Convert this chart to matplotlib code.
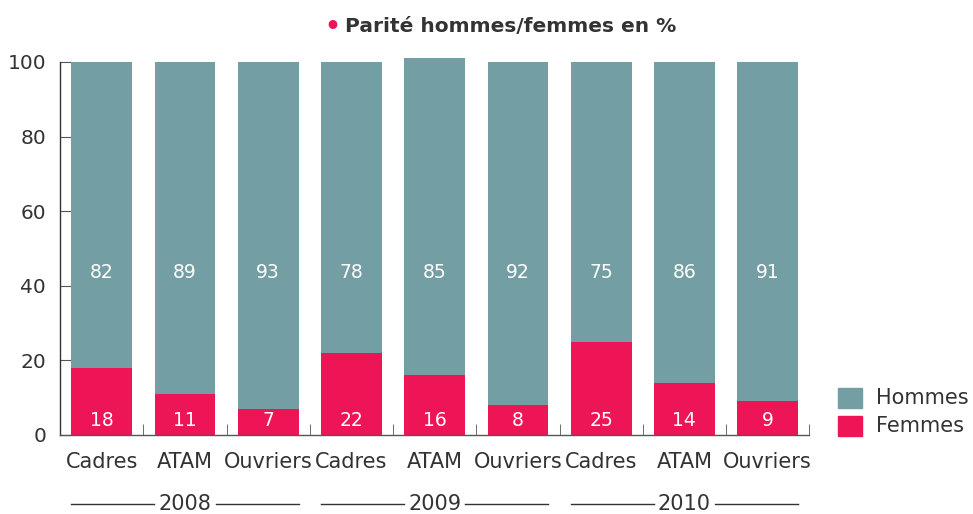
import numpy as np
import matplotlib
matplotlib.use("Agg")
import matplotlib.pyplot as plt
from matplotlib.patches import Rectangle

# ---------- data ----------
years = ["2008", "2009", "2010"]
categories = ["Cadres", "ATAM", "Ouvriers"] * 3
femmes = [18, 11, 7, 22, 16, 8, 25, 14, 9]
hommes = [82, 89, 93, 78, 85, 92, 75, 86, 91]

COLOR_H = "#739EA4"
COLOR_F = "#EE1556"
TXT = "#333333"

plt.rcParams.update({
    "font.family": ["DejaVu Sans"],
    "axes.linewidth": 1.0,
})

fig = plt.figure(figsize=(9.73, 5.14), dpi=100)
ax = fig.add_axes([0.0617, 0.1537, 0.77, 0.7257])

x = np.arange(len(categories))
w = 0.73
ax.bar(x, femmes, width=w, color=COLOR_F, clip_on=False, zorder=2)
ax.bar(x, hommes, width=w, bottom=femmes, color=COLOR_H, clip_on=False, zorder=2)

for xi, f, h in zip(x, femmes, hommes):
    ax.text(xi, 4, str(f), ha="center", va="center", color="white", fontsize=13.5)
    ax.text(xi, 43.5, str(h), ha="center", va="center", color="white", fontsize=13.5)

ax.set_xlim(-0.5, len(categories) - 0.5)
ax.set_ylim(0, 100)
ax.set_yticks([0, 20, 40, 60, 80, 100])
ax.tick_params(axis="y", direction="in", length=8, color="#555555",
               labelsize=14.5, labelcolor=TXT, pad=10)
ax.set_xticks(x)
ax.set_xticklabels(categories)
ax.tick_params(axis="x", length=0, labelsize=15, labelcolor=TXT, pad=12)
ax.set_xticks(x + 0.5, minor=True)
ax.tick_params(axis="x", which="minor", direction="in", length=8, color="#555555")

for s in ["top", "right"]:
    ax.spines[s].set_visible(False)
ax.spines["left"].set_color("#333333")
ax.spines["bottom"].set_color("#555555")

# year group labels with lines
trans = ax.get_xaxis_transform()
for i, yr in enumerate(years):
    left = 3 * i - w / 2
    right = 3 * i + 2 + w / 2
    mid = 3 * i + 1
    ax.text(mid, -0.185, yr, transform=trans, ha="center", va="center",
            fontsize=15, color=TXT)
    ax.plot([left, mid - 0.37], [-0.185, -0.185], transform=trans,
            color=TXT, lw=1.0, clip_on=False)
    ax.plot([mid + 0.37, right], [-0.185, -0.185], transform=trans,
            color=TXT, lw=1.0, clip_on=False)

# legend
for j, (lab, col) in enumerate([("Hommes", COLOR_H), ("Femmes", COLOR_F)]):
    yy = 1 - (398 + 28 * j) / 514
    fig.patches.append(Rectangle((838 / 973, yy - 10 / 514), 24 / 973, 20 / 514,
                                 transform=fig.transFigure, color=col))
    fig.text(876 / 973, yy, lab, ha="left", va="center", fontsize=15, color=TXT)

# title
fig.text(332 / 973, 1 - 27 / 514, "\u2022", ha="center", va="center",
         fontsize=18, color=COLOR_F, fontweight="bold")
fig.text(345 / 973, 1 - 27 / 514, "Parité hommes/femmes en %", ha="left",
         va="center", fontsize=14.5, color=TXT, fontweight="bold")

fig.savefig("out.png", dpi=100)
